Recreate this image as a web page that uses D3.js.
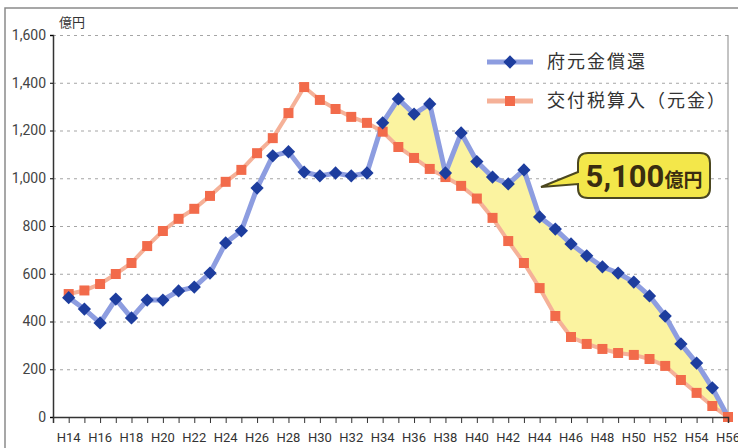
<!DOCTYPE html>
<html>
<head>
<meta charset="utf-8">
<script src="https://cdn.jsdelivr.net/npm/d3@7"></script>
<style>
body { margin: 0; background: #fff; }
text { font-family: Roboto, "Noto Sans CJK JP", sans-serif; }
.jp { font-family: "Noto Sans CJK JP", sans-serif; }
.grid line { stroke: #a5a5a5; stroke-dasharray: 3,4; }
.grid path { display: none; }
</style>
</head>
<body>
<div id="vis"></div>
<script>

// fiscal years (Heisei)
var years = [14,15,16,17,18,19,20,21,22,23,24,25,26,27,28,29,30,31,32,33,34,35,36,37,38,39,40,41,42,43,44,45,46,47,48,49,50,51,52,53,54,55,56];

// 府元金償還
var repay = [500,452,394,494,415,490,490,528,544,603,729,780,959,1094,1111,1026,1010,1022,1010,1022,1232,1332,1269,1311,1022,1190,1070,1005,976,1035,838,787,725,675,629,603,565,507,423,306,226,122,0];

// 交付税算入(元金)
var grant = [515,530,557,599,645,716,779,830,872,926,985,1035,1105,1168,1273,1382,1328,1290,1257,1232,1195,1131,1085,1039,1005,968,915,834,737,645,540,423,335,306,285,268,260,243,214,155,101,46,0];

var yTicks = [0,200,400,600,800,1000,1200,1400,1600];
var xLabelYears = [14,16,18,20,22,24,26,28,30,32,34,36,38,40,42,44,46,48,50,52,54,56];

var width = 738, height = 448;
var margin = {top: 35, right: 10, bottom: 31, left: 53};

var svg = d3.select("#vis").append("svg")
    .attr("width", width)
    .attr("height", height);

// outer frame
svg.append("path")
    .attr("d", "M5,448 V8 H738")
    .attr("fill", "none")
    .attr("stroke", "#8a8a8a")
    .attr("stroke-width", 1.5);

var x = d3.scaleLinear().domain([13, 56]).range([margin.left, width - margin.right]);
var y = d3.scaleLinear().domain([0, 1600]).range([height - margin.bottom, margin.top]);

var data = years.map(function(d, i) { return {year: d, repay: repay[i], grant: grant[i]}; });

// gridlines
svg.append("g")
    .attr("class", "grid")
    .attr("transform", "translate(" + margin.left + ",0)")
    .call(d3.axisLeft(y).tickValues(yTicks.slice(1)).tickSize(-(x(56) - x(13))).tickFormat(""));

// right border of plot
svg.append("line")
    .attr("x1", x(56)).attr("x2", x(56))
    .attr("y1", y(1600)).attr("y2", y(0))
    .attr("stroke", "#888").attr("stroke-width", 1);

// yellow area where repayment exceeds grant
var area = d3.area()
    .x(function(d) { return x(d.year); });

svg.append("clipPath")
    .attr("id", "clip-above")
  .append("path")
    .attr("d", area.y0(0).y1(function(d) { return y(d.grant); })(data));

svg.append("path")
    .attr("clip-path", "url(#clip-above)")
    .attr("fill", "#fbf3a0")
    .attr("d", area.y0(function(d) { return y(d.grant); }).y1(function(d) { return y(d.repay); })(data));

// lines
var lineGrant = d3.line().x(function(d) { return x(d.year); }).y(function(d) { return y(d.grant); });
var lineRepay = d3.line().x(function(d) { return x(d.year); }).y(function(d) { return y(d.repay); });

svg.append("path")
    .datum(data)
    .attr("fill", "none")
    .attr("stroke", "#f5b198")
    .attr("stroke-width", 4)
    .attr("d", lineGrant);

svg.append("path")
    .datum(data)
    .attr("fill", "none")
    .attr("stroke", "#8d9de0")
    .attr("stroke-width", 5)
    .attr("d", lineRepay);

var square = d3.symbol().type(d3.symbolSquare).size(100);
var diamond = d3.symbol().type(d3.symbolSquare).size(88);

svg.append("g").selectAll("path")
    .data(data)
  .enter().append("path")
    .attr("transform", function(d) { return "translate(" + x(d.year) + "," + y(d.grant) + ")"; })
    .attr("d", square)
    .attr("fill", "#f26b4b");

svg.append("g").selectAll("path")
    .data(data.slice(0, data.length - 1))
  .enter().append("path")
    .attr("transform", function(d) { return "translate(" + x(d.year) + "," + y(d.repay) + ") rotate(45)"; })
    .attr("d", diamond)
    .attr("fill", "#1d3d9e");

// last orange marker on top
svg.append("path")
    .attr("transform", "translate(" + x(56) + "," + y(0) + ")")
    .attr("d", square)
    .attr("fill", "#f26b4b");

// axes
var yAxis = svg.append("g")
    .attr("transform", "translate(" + margin.left + ",0)")
    .call(d3.axisLeft(y).tickValues(yTicks).tickSize(3).tickFormat(d3.format(",")));
yAxis.select(".domain").attr("stroke", "#333").attr("stroke-width", 1.5);
yAxis.selectAll("text").attr("font-size", 14).attr("fill", "#444").attr("x", -7);

var xAxis = svg.append("g")
    .attr("transform", "translate(0," + y(0) + ")")
    .call(d3.axisBottom(x).tickValues(years).tickSize(6).tickFormat(""));
xAxis.select(".domain").attr("stroke", "#333").attr("stroke-width", 1.5);
xAxis.selectAll(".tick line").attr("stroke", "#333");

svg.append("g").selectAll("text")
    .data(xLabelYears)
  .enter().append("text")
    .attr("x", function(d) { return x(d); })
    .attr("y", 442)
    .attr("text-anchor", "middle")
    .attr("font-size", 13)
    .attr("fill", "#333")
    .text(function(d) { return "H" + d; });

svg.append("text")
    .attr("class", "jp")
    .attr("x", 59)
    .attr("y", 27)
    .attr("font-size", 13)
    .attr("fill", "#333")
    .text("億円");

// legend
var legend = [
  {label: "府元金償還", y: 62, line: "#8d9de0", fill: "#1d3d9e", sym: diamond, rot: 45},
  {label: "交付税算入（元金）", y: 101, line: "#f5b198", fill: "#f26b4b", sym: square, rot: 0}
];
var lg = svg.append("g").selectAll("g")
    .data(legend)
  .enter().append("g")
    .attr("transform", function(d) { return "translate(0," + d.y + ")"; });
lg.append("line")
    .attr("x1", 487).attr("x2", 533)
    .attr("stroke", function(d) { return d.line; })
    .attr("stroke-width", 5);
lg.append("path")
    .attr("transform", function(d) { return "translate(510,0) rotate(" + d.rot + ")"; })
    .attr("d", function(d) { return d.sym(); })
    .attr("fill", function(d) { return d.fill; });
lg.append("text")
    .attr("class", "jp")
    .attr("x", 547)
    .attr("dy", "0.36em")
    .attr("font-size", 18)
    .attr("letter-spacing", 2)
    .attr("fill", "#333")
    .text(function(d) { return d.label; });

// callout
var callout = svg.append("g");
callout.append("path")
    .attr("d", "M588,153 H700 Q710,153 710,163 V188 Q710,198 700,198 H588 Q578,198 578,188 V184 L541,187 L578,172 V163 Q578,153 588,153 Z")
    .attr("fill", "#f3e74a")
    .attr("stroke", "#4b4720")
    .attr("stroke-width", 2);
var ct = callout.append("text")
    .attr("x", 644)
    .attr("y", 187)
    .attr("text-anchor", "middle")
    .attr("fill", "#3a2d10")
    .attr("font-weight", "bold");
ct.append("tspan").attr("font-size", 31).text("5,100");
ct.append("tspan").attr("class", "jp").attr("font-size", 19).text("億円");

</script>
</body>
</html>
